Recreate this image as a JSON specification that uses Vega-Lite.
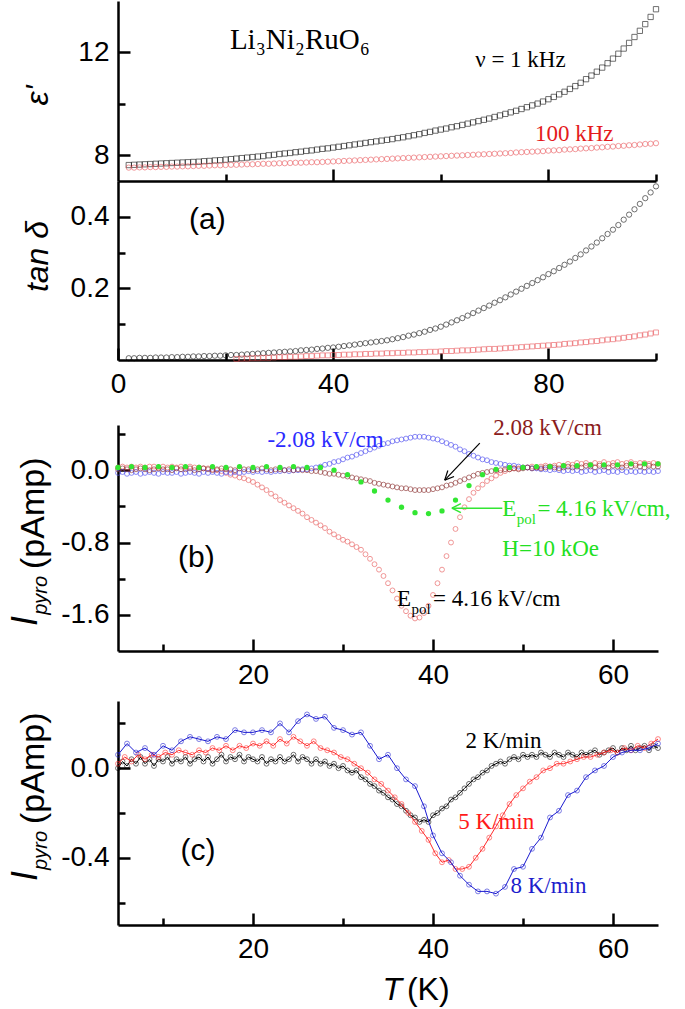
{
  "$schema": "https://vega.github.io/schema/vega-lite/v6.json",
  "padding": {"left": 8, "top": 1, "right": 0, "bottom": 0},
  "background": "white",
  "config": {
    "view": {"stroke": null},
    "axis": {"grid": false, "domainColor": "#000", "domainWidth": 2.5, "tickColor": "#000", "tickWidth": 2.5, "labelFont": "Liberation Sans", "labelFontSize": 28, "labelColor": "#000", "titleFont": "Liberation Sans", "titleColor": "#000", "titleFontWeight": "normal", "labelOverlap": false, "labelFlush": false}
  },
  "datasets": {
    "pa": [
      {"T":2,"e1":7.62,"e2":7.52,"t1":0.005},{"T":3,"e1":7.63,"e2":7.52,"t1":0.005},{"T":4,"e1":7.64,"e2":7.53,"t1":0.006},{"T":5,"e1":7.65,"e2":7.53,"t1":0.006},{"T":6,"e1":7.66,"e2":7.54,"t1":0.006},{"T":7,"e1":7.67,"e2":7.54,"t1":0.007},{"T":8,"e1":7.68,"e2":7.55,"t1":0.007},{"T":9,"e1":7.69,"e2":7.55,"t1":0.007},{"T":10,"e1":7.70,"e2":7.56,"t1":0.008},{"T":11,"e1":7.71,"e2":7.56,"t1":0.008},{"T":12,"e1":7.72,"e2":7.57,"t1":0.009},{"T":13,"e1":7.73,"e2":7.57,"t1":0.009},{"T":14,"e1":7.74,"e2":7.58,"t1":0.010},{"T":15,"e1":7.75,"e2":7.59,"t1":0.010},{"T":16,"e1":7.77,"e2":7.59,"t1":0.011},{"T":17,"e1":7.78,"e2":7.60,"t1":0.011},{"T":18,"e1":7.80,"e2":7.61,"t1":0.012},{"T":19,"e1":7.81,"e2":7.61,"t1":0.012},{"T":20,"e1":7.83,"e2":7.62,"t1":0.013},{"T":21,"e1":7.85,"e2":7.63,"t1":0.014},
      {"T":22,"e1":7.87,"e2":7.63,"t1":0.014,"t2":0.003},{"T":23,"e1":7.89,"e2":7.64,"t1":0.015,"t2":0.004},{"T":24,"e1":7.91,"e2":7.65,"t1":0.016,"t2":0.004},{"T":25,"e1":7.93,"e2":7.65,"t1":0.017,"t2":0.005},{"T":26,"e1":7.95,"e2":7.66,"t1":0.018,"t2":0.005},{"T":27,"e1":7.97,"e2":7.67,"t1":0.019,"t2":0.006},{"T":28,"e1":8.00,"e2":7.67,"t1":0.020,"t2":0.006},{"T":29,"e1":8.02,"e2":7.68,"t1":0.021,"t2":0.007},{"T":30,"e1":8.05,"e2":7.69,"t1":0.022,"t2":0.008},{"T":31,"e1":8.07,"e2":7.69,"t1":0.023,"t2":0.008},{"T":32,"e1":8.09,"e2":7.70,"t1":0.024,"t2":0.009},{"T":33,"e1":8.12,"e2":7.71,"t1":0.025,"t2":0.009},{"T":34,"e1":8.14,"e2":7.71,"t1":0.027,"t2":0.010},{"T":35,"e1":8.17,"e2":7.72,"t1":0.028,"t2":0.011},{"T":36,"e1":8.19,"e2":7.73,"t1":0.029,"t2":0.011},{"T":37,"e1":8.22,"e2":7.73,"t1":0.031,"t2":0.012},{"T":38,"e1":8.25,"e2":7.74,"t1":0.032,"t2":0.013},{"T":39,"e1":8.27,"e2":7.75,"t1":0.034,"t2":0.013},{"T":40,"e1":8.30,"e2":7.76,"t1":0.035,"t2":0.014},{"T":41,"e1":8.33,"e2":7.77,"t1":0.037,"t2":0.014},{"T":42,"e1":8.36,"e2":7.78,"t1":0.039,"t2":0.015},{"T":43,"e1":8.39,"e2":7.79,"t1":0.041,"t2":0.015},{"T":44,"e1":8.42,"e2":7.80,"t1":0.043,"t2":0.016},{"T":45,"e1":8.45,"e2":7.81,"t1":0.045,"t2":0.016},{"T":46,"e1":8.48,"e2":7.82,"t1":0.047,"t2":0.017},{"T":47,"e1":8.51,"e2":7.83,"t1":0.049,"t2":0.017},{"T":48,"e1":8.54,"e2":7.84,"t1":0.051,"t2":0.018},{"T":49,"e1":8.57,"e2":7.85,"t1":0.053,"t2":0.018},{"T":50,"e1":8.60,"e2":7.86,"t1":0.055,"t2":0.019},{"T":51,"e1":8.63,"e2":7.87,"t1":0.058,"t2":0.019},{"T":52,"e1":8.67,"e2":7.88,"t1":0.061,"t2":0.020},{"T":53,"e1":8.70,"e2":7.89,"t1":0.064,"t2":0.020},{"T":54,"e1":8.74,"e2":7.90,"t1":0.068,"t2":0.021},{"T":55,"e1":8.78,"e2":7.91,"t1":0.071,"t2":0.021},{"T":56,"e1":8.82,"e2":7.92,"t1":0.075,"t2":0.022},{"T":57,"e1":8.87,"e2":7.93,"t1":0.079,"t2":0.022},{"T":58,"e1":8.91,"e2":7.94,"t1":0.084,"t2":0.023},{"T":59,"e1":8.96,"e2":7.95,"t1":0.088,"t2":0.023},{"T":60,"e1":9.00,"e2":7.96,"t1":0.093,"t2":0.024},{"T":61,"e1":9.04,"e2":7.97,"t1":0.099,"t2":0.025},{"T":62,"e1":9.09,"e2":7.98,"t1":0.105,"t2":0.025},{"T":63,"e1":9.13,"e2":7.99,"t1":0.111,"t2":0.026},{"T":64,"e1":9.18,"e2":8.00,"t1":0.117,"t2":0.027},{"T":65,"e1":9.23,"e2":8.01,"t1":0.124,"t2":0.027},{"T":66,"e1":9.28,"e2":8.02,"t1":0.131,"t2":0.028},{"T":67,"e1":9.33,"e2":8.03,"t1":0.138,"t2":0.029},{"T":68,"e1":9.38,"e2":8.04,"t1":0.145,"t2":0.030},{"T":69,"e1":9.43,"e2":8.05,"t1":0.152,"t2":0.031},{"T":70,"e1":9.49,"e2":8.06,"t1":0.160,"t2":0.031},{"T":71,"e1":9.55,"e2":8.07,"t1":0.167,"t2":0.032},{"T":72,"e1":9.61,"e2":8.08,"t1":0.175,"t2":0.033},{"T":73,"e1":9.67,"e2":8.09,"t1":0.183,"t2":0.034},{"T":74,"e1":9.73,"e2":8.11,"t1":0.191,"t2":0.035},{"T":75,"e1":9.80,"e2":8.12,"t1":0.199,"t2":0.036},{"T":76,"e1":9.87,"e2":8.13,"t1":0.207,"t2":0.037},{"T":77,"e1":9.94,"e2":8.14,"t1":0.215,"t2":0.038},{"T":78,"e1":10.01,"e2":8.15,"t1":0.223,"t2":0.039},{"T":79,"e1":10.09,"e2":8.16,"t1":0.231,"t2":0.040},{"T":80,"e1":10.18,"e2":8.18,"t1":0.240,"t2":0.041},{"T":81,"e1":10.27,"e2":8.19,"t1":0.248,"t2":0.042},{"T":82,"e1":10.37,"e2":8.20,"t1":0.257,"t2":0.043},{"T":83,"e1":10.47,"e2":8.22,"t1":0.266,"t2":0.045},{"T":84,"e1":10.58,"e2":8.23,"t1":0.275,"t2":0.046},{"T":85,"e1":10.69,"e2":8.24,"t1":0.285,"t2":0.047},{"T":86,"e1":10.82,"e2":8.26,"t1":0.295,"t2":0.049},{"T":87,"e1":10.96,"e2":8.27,"t1":0.306,"t2":0.050},{"T":88,"e1":11.10,"e2":8.28,"t1":0.317,"t2":0.052},{"T":89,"e1":11.25,"e2":8.30,"t1":0.328,"t2":0.053},{"T":90,"e1":11.41,"e2":8.31,"t1":0.340,"t2":0.055},{"T":91,"e1":11.58,"e2":8.33,"t1":0.352,"t2":0.057},{"T":92,"e1":11.76,"e2":8.34,"t1":0.364,"t2":0.058},{"T":93,"e1":11.95,"e2":8.36,"t1":0.377,"t2":0.060},{"T":94,"e1":12.15,"e2":8.37,"t1":0.392,"t2":0.062},{"T":95,"e1":12.37,"e2":8.39,"t1":0.406,"t2":0.064},{"T":96,"e1":12.60,"e2":8.40,"t1":0.421,"t2":0.066},{"T":97,"e1":12.84,"e2":8.42,"t1":0.436,"t2":0.069},{"T":98,"e1":13.10,"e2":8.44,"t1":0.452,"t2":0.071},{"T":99,"e1":13.38,"e2":8.45,"t1":0.468,"t2":0.074},{"T":100,"e1":13.68,"e2":8.47,"t1":0.485,"t2":0.077}
    ],
    "pb": [
      {"T":5.0,"r":0.03,"bl":-0.03,"br":0.01},{"T":5.5,"r":0.04,"bl":-0.02,"br":0.02},{"T":6.0,"r":0.03,"bl":-0.04,"br":0.01},{"T":6.5,"r":0.04,"bl":-0.03,"br":0.0},{"T":7.0,"r":0.03,"bl":-0.02,"br":0.01},{"T":7.5,"r":0.04,"bl":-0.04,"br":0.02},{"T":8.0,"r":0.03,"bl":-0.03,"br":0.01},{"T":8.5,"r":0.04,"bl":-0.02,"br":0.0},{"T":9.0,"r":0.04,"bl":-0.03,"br":0.01},{"T":9.5,"r":0.03,"bl":-0.04,"br":0.02},{"T":10.0,"r":0.04,"bl":-0.02,"br":0.01},{"T":10.5,"r":0.03,"bl":-0.03,"br":0.01},{"T":11.0,"r":0.04,"bl":-0.03,"br":0.0},{"T":11.5,"r":0.03,"bl":-0.02,"br":0.02},{"T":12.0,"r":0.04,"bl":-0.04,"br":0.01},{"T":12.5,"r":0.03,"bl":-0.03,"br":0.01},{"T":13.0,"r":0.04,"bl":-0.02,"br":0.02},{"T":13.5,"r":0.03,"bl":-0.03,"br":0.0},{"T":14.0,"r":0.03,"bl":-0.04,"br":0.01},{"T":14.5,"r":0.02,"bl":-0.02,"br":0.02},{"T":15.0,"r":0.02,"bl":-0.03,"br":0.01},{"T":15.5,"r":0.01,"bl":-0.02,"br":0.0},{"T":16.0,"r":0.0,"bl":-0.03,"br":0.01},{"T":16.5,"r":-0.01,"bl":-0.04,"br":0.02},{"T":17.0,"r":-0.03,"bl":-0.02,"br":0.01},{"T":17.5,"r":-0.05,"bl":-0.03,"br":0.01},{"T":18.0,"r":-0.06,"bl":-0.02,"br":0.0},{"T":18.5,"r":-0.08,"bl":-0.03,"br":0.02},{"T":19.0,"r":-0.09,"bl":-0.02,"br":0.01},{"T":19.5,"r":-0.11,"bl":-0.01,"br":0.01},{"T":20.0,"r":-0.13,"bl":-0.02,"br":0.0},{"T":20.5,"r":-0.16,"bl":-0.01,"br":0.01},{"T":21.0,"r":-0.19,"bl":-0.02,"br":0.02},{"T":21.5,"r":-0.22,"bl":-0.01,"br":0.01},{"T":22.0,"r":-0.26,"bl":-0.02,"br":0.0},{"T":22.5,"r":-0.29,"bl":-0.01,"br":0.01},{"T":23.0,"r":-0.33,"bl":-0.01,"br":0.01},{"T":23.5,"r":-0.36,"bl":0.0,"br":0.0},{"T":24.0,"r":-0.39,"bl":-0.01,"br":0.01},{"T":24.5,"r":-0.42,"bl":0.0,"br":0.0},{"T":25.0,"r":-0.45,"bl":0.0,"br":0.01},{"T":25.5,"r":-0.48,"bl":0.01,"br":0.0},{"T":26.0,"r":-0.52,"bl":0.01,"br":0.0},{"T":26.5,"r":-0.55,"bl":0.02,"br":-0.01},{"T":27.0,"r":-0.58,"bl":0.03,"br":-0.01},{"T":27.5,"r":-0.61,"bl":0.04,"br":-0.02},{"T":28.0,"r":-0.64,"bl":0.06,"br":-0.03},{"T":28.5,"r":-0.68,"bl":0.07,"br":-0.04},{"T":29.0,"r":-0.71,"bl":0.09,"br":-0.04},{"T":29.5,"r":-0.74,"bl":0.10,"br":-0.05},{"T":30.0,"r":-0.77,"bl":0.12,"br":-0.06},{"T":30.5,"r":-0.79,"bl":0.14,"br":-0.07},{"T":31.0,"r":-0.82,"bl":0.15,"br":-0.08},{"T":31.5,"r":-0.85,"bl":0.17,"br":-0.09},{"T":32.0,"r":-0.88,"bl":0.19,"br":-0.10},{"T":32.5,"r":-0.93,"bl":0.21,"br":-0.11},{"T":33.0,"r":-0.98,"bl":0.23,"br":-0.12},{"T":33.5,"r":-1.04,"bl":0.25,"br":-0.14},{"T":34.0,"r":-1.10,"bl":0.27,"br":-0.15},{"T":34.5,"r":-1.17,"bl":0.29,"br":-0.16},{"T":35.0,"r":-1.25,"bl":0.30,"br":-0.17},{"T":35.5,"r":-1.33,"bl":0.32,"br":-0.18},{"T":36.0,"r":-1.42,"bl":0.33,"br":-0.19},{"T":36.5,"r":-1.50,"bl":0.34,"br":-0.20},{"T":37.0,"r":-1.56,"bl":0.35,"br":-0.20},{"T":37.5,"r":-1.61,"bl":0.36,"br":-0.21},{"T":38.0,"r":-1.64,"bl":0.37,"br":-0.22},{"T":38.5,"r":-1.63,"bl":0.37,"br":-0.22},{"T":39.0,"r":-1.58,"bl":0.37,"br":-0.22},{"T":39.5,"r":-1.50,"bl":0.36,"br":-0.22},{"T":40.0,"r":-1.38,"bl":0.35,"br":-0.21},{"T":40.5,"r":-1.25,"bl":0.34,"br":-0.20},{"T":41.0,"r":-1.10,"bl":0.32,"br":-0.19},{"T":41.5,"r":-0.95,"bl":0.30,"br":-0.17},{"T":42.0,"r":-0.80,"bl":0.28,"br":-0.16},{"T":42.5,"r":-0.65,"bl":0.26,"br":-0.14},{"T":43.0,"r":-0.52,"bl":0.23,"br":-0.12},{"T":43.5,"r":-0.41,"bl":0.21,"br":-0.10},{"T":44.0,"r":-0.32,"bl":0.18,"br":-0.08},{"T":44.5,"r":-0.25,"bl":0.16,"br":-0.06},{"T":45.0,"r":-0.20,"bl":0.14,"br":-0.04},{"T":45.5,"r":-0.16,"bl":0.12,"br":-0.03},{"T":46.0,"r":-0.12,"bl":0.11,"br":-0.02},{"T":46.5,"r":-0.09,"bl":0.09,"br":-0.01},{"T":47.0,"r":-0.06,"bl":0.08,"br":0.0},{"T":47.5,"r":-0.03,"bl":0.07,"br":0.0},{"T":48.0,"r":-0.01,"bl":0.06,"br":0.01},{"T":48.5,"r":0.01,"bl":0.05,"br":0.01},{"T":49.0,"r":0.02,"bl":0.05,"br":0.02},{"T":49.5,"r":0.02,"bl":0.04,"br":0.01},{"T":50.0,"r":0.03,"bl":0.03,"br":0.02},{"T":50.5,"r":0.03,"bl":0.03,"br":0.03},{"T":51.0,"r":0.04,"bl":0.02,"br":0.02},{"T":51.5,"r":0.03,"bl":0.02,"br":0.03},{"T":52.0,"r":0.04,"bl":0.01,"br":0.02},{"T":52.5,"r":0.05,"bl":0.01,"br":0.03},{"T":53.0,"r":0.04,"bl":0.0,"br":0.04},{"T":53.5,"r":0.05,"bl":0.01,"br":0.03},{"T":54.0,"r":0.06,"bl":0.0,"br":0.02},{"T":54.5,"r":0.05,"bl":-0.01,"br":0.03},{"T":55.0,"r":0.07,"bl":0.0,"br":0.04},{"T":55.5,"r":0.06,"bl":-0.01,"br":0.03},{"T":56.0,"r":0.08,"bl":0.0,"br":0.04},{"T":56.5,"r":0.07,"bl":-0.02,"br":0.03},{"T":57.0,"r":0.08,"bl":-0.01,"br":0.05},{"T":57.5,"r":0.06,"bl":0.0,"br":0.04},{"T":58.0,"r":0.08,"bl":-0.02,"br":0.03},{"T":58.5,"r":0.07,"bl":-0.01,"br":0.05},{"T":59.0,"r":0.09,"bl":0.0,"br":0.04},{"T":59.5,"r":0.07,"bl":-0.02,"br":0.03},{"T":60.0,"r":0.08,"bl":-0.01,"br":0.05},{"T":60.5,"r":0.09,"bl":-0.02,"br":0.04},{"T":61.0,"r":0.07,"bl":0.0,"br":0.03},{"T":61.5,"r":0.08,"bl":-0.02,"br":0.05},{"T":62.0,"r":0.09,"bl":-0.01,"br":0.04},{"T":62.5,"r":0.07,"bl":-0.02,"br":0.05},{"T":63.0,"r":0.08,"bl":-0.01,"br":0.04},{"T":63.5,"r":0.08,"bl":-0.02,"br":0.03},{"T":64.0,"r":0.07,"bl":-0.01,"br":0.05},{"T":64.5,"r":0.08,"bl":-0.02,"br":0.04},{"T":65.0,"r":0.07,"bl":-0.01,"br":0.04}
    ],
    "pbg": [
      {"T":5,"g":0.03},{"T":6.5,"g":0.04},{"T":8,"g":0.03},{"T":9.5,"g":0.04},{"T":11,"g":0.03},{"T":12.5,"g":0.04},{"T":14,"g":0.03},{"T":15.5,"g":0.04},{"T":17,"g":0.03},{"T":18.5,"g":0.04},{"T":20,"g":0.03},{"T":21.5,"g":0.04},{"T":23,"g":0.03},{"T":24.5,"g":0.04},{"T":26,"g":0.03},{"T":27.5,"g":0.03},{"T":29,"g":0.0},{"T":30.5,"g":-0.05},{"T":32,"g":-0.13},{"T":33.5,"g":-0.23},{"T":35,"g":-0.33},{"T":36.5,"g":-0.41},{"T":38,"g":-0.47},{"T":39.5,"g":-0.48},{"T":41,"g":-0.45},{"T":42.5,"g":-0.33},{"T":44,"g":-0.17},{"T":45.5,"g":-0.05},{"T":47,"g":0.01},{"T":48.5,"g":0.03},{"T":50,"g":0.03},{"T":51.5,"g":0.04},{"T":53,"g":0.04},{"T":54.5,"g":0.05},{"T":56,"g":0.05},{"T":57.5,"g":0.06},{"T":59,"g":0.06},{"T":60.5,"g":0.06},{"T":62,"g":0.07},{"T":63.5,"g":0.07},{"T":65,"g":0.07}
    ],
    "pc2": [
      {"T":5.0,"I":0.0},{"T":5.5,"I":0.03},{"T":6.0,"I":0.01},{"T":6.5,"I":0.04},{"T":7.0,"I":0.02},{"T":7.5,"I":0.05},{"T":8.0,"I":0.02},{"T":8.5,"I":0.04},{"T":9.0,"I":0.01},{"T":9.5,"I":0.04},{"T":10.0,"I":0.03},{"T":10.5,"I":0.05},{"T":11.0,"I":0.02},{"T":11.5,"I":0.04},{"T":12.0,"I":0.03},{"T":12.5,"I":0.05},{"T":13.0,"I":0.02},{"T":13.5,"I":0.04},{"T":14.0,"I":0.05},{"T":14.5,"I":0.03},{"T":15.0,"I":0.05},{"T":15.5,"I":0.02},{"T":16.0,"I":0.04},{"T":16.5,"I":0.06},{"T":17.0,"I":0.03},{"T":17.5,"I":0.05},{"T":18.0,"I":0.04},{"T":18.5,"I":0.06},{"T":19.0,"I":0.03},{"T":19.5,"I":0.05},{"T":20.0,"I":0.04},{"T":20.5,"I":0.03},{"T":21.0,"I":0.05},{"T":21.5,"I":0.02},{"T":22.0,"I":0.04},{"T":22.5,"I":0.03},{"T":23.0,"I":0.05},{"T":23.5,"I":0.03},{"T":24.0,"I":0.04},{"T":24.5,"I":0.06},{"T":25.0,"I":0.03},{"T":25.5,"I":0.05},{"T":26.0,"I":0.04},{"T":26.5,"I":0.02},{"T":27.0,"I":0.04},{"T":27.5,"I":0.02},{"T":28.0,"I":0.03},{"T":28.5,"I":0.01},{"T":29.0,"I":0.02},{"T":29.5,"I":0.0},{"T":30.0,"I":0.01},{"T":30.5,"I":-0.01},{"T":31.0,"I":-0.02},{"T":31.5,"I":-0.01},{"T":32.0,"I":-0.04},{"T":32.5,"I":-0.05},{"T":33.0,"I":-0.07},{"T":33.5,"I":-0.08},{"T":34.0,"I":-0.10},{"T":34.5,"I":-0.11},{"T":35.0,"I":-0.13},{"T":35.5,"I":-0.14},{"T":36.0,"I":-0.16},{"T":36.5,"I":-0.17},{"T":37.0,"I":-0.19},{"T":37.5,"I":-0.21},{"T":38.0,"I":-0.22},{"T":38.5,"I":-0.24},{"T":39.0,"I":-0.23},{"T":39.5,"I":-0.24},{"T":40.0,"I":-0.21},{"T":40.5,"I":-0.20},{"T":41.0,"I":-0.18},{"T":41.5,"I":-0.17},{"T":42.0,"I":-0.14},{"T":42.5,"I":-0.13},{"T":43.0,"I":-0.11},{"T":43.5,"I":-0.09},{"T":44.0,"I":-0.07},{"T":44.5,"I":-0.05},{"T":45.0,"I":-0.04},{"T":45.5,"I":-0.02},{"T":46.0,"I":-0.01},{"T":46.5,"I":0.01},{"T":47.0,"I":0.02},{"T":47.5,"I":0.03},{"T":48.0,"I":0.02},{"T":48.5,"I":0.04},{"T":49.0,"I":0.05},{"T":49.5,"I":0.04},{"T":50.0,"I":0.06},{"T":50.5,"I":0.05},{"T":51.0,"I":0.06},{"T":51.5,"I":0.05},{"T":52.0,"I":0.07},{"T":52.5,"I":0.06},{"T":53.0,"I":0.05},{"T":53.5,"I":0.07},{"T":54.0,"I":0.06},{"T":54.5,"I":0.05},{"T":55.0,"I":0.07},{"T":55.5,"I":0.06},{"T":56.0,"I":0.05},{"T":56.5,"I":0.07},{"T":57.0,"I":0.06},{"T":57.5,"I":0.07},{"T":58.0,"I":0.08},{"T":58.5,"I":0.06},{"T":59.0,"I":0.07},{"T":59.5,"I":0.08},{"T":60.0,"I":0.09},{"T":60.5,"I":0.07},{"T":61.0,"I":0.09},{"T":61.5,"I":0.08},{"T":62.0,"I":0.10},{"T":62.5,"I":0.08},{"T":63.0,"I":0.09},{"T":63.5,"I":0.10},{"T":64.0,"I":0.08},{"T":64.5,"I":0.10},{"T":65.0,"I":0.09}
    ],
    "pc5": [
      {"T":5.0,"I":0.02},{"T":5.75,"I":0.05},{"T":6.5,"I":0.03},{"T":7.25,"I":0.06},{"T":8.0,"I":0.04},{"T":8.75,"I":0.06},{"T":9.5,"I":0.05},{"T":10.25,"I":0.07},{"T":11.0,"I":0.06},{"T":11.75,"I":0.08},{"T":12.5,"I":0.07},{"T":13.25,"I":0.06},{"T":14.0,"I":0.08},{"T":14.75,"I":0.07},{"T":15.5,"I":0.09},{"T":16.25,"I":0.08},{"T":17.0,"I":0.10},{"T":17.75,"I":0.08},{"T":18.5,"I":0.10},{"T":19.25,"I":0.09},{"T":20.0,"I":0.11},{"T":20.75,"I":0.10},{"T":21.5,"I":0.12},{"T":22.25,"I":0.10},{"T":23.0,"I":0.13},{"T":23.75,"I":0.11},{"T":24.5,"I":0.14},{"T":25.25,"I":0.12},{"T":26.0,"I":0.10},{"T":26.75,"I":0.12},{"T":27.5,"I":0.09},{"T":28.25,"I":0.08},{"T":29.0,"I":0.07},{"T":29.75,"I":0.05},{"T":30.5,"I":0.04},{"T":31.25,"I":0.02},{"T":32.0,"I":0.0},{"T":32.75,"I":-0.02},{"T":33.5,"I":-0.05},{"T":34.25,"I":-0.07},{"T":35.0,"I":-0.10},{"T":35.75,"I":-0.13},{"T":36.5,"I":-0.16},{"T":37.25,"I":-0.20},{"T":38.0,"I":-0.24},{"T":38.75,"I":-0.28},{"T":39.5,"I":-0.32},{"T":40.25,"I":-0.38},{"T":41.0,"I":-0.42},{"T":41.75,"I":-0.41},{"T":42.5,"I":-0.45},{"T":43.25,"I":-0.45},{"T":44.0,"I":-0.44},{"T":44.75,"I":-0.40},{"T":45.5,"I":-0.36},{"T":46.25,"I":-0.31},{"T":47.0,"I":-0.26},{"T":47.75,"I":-0.21},{"T":48.5,"I":-0.16},{"T":49.25,"I":-0.12},{"T":50.0,"I":-0.09},{"T":50.75,"I":-0.06},{"T":51.5,"I":-0.04},{"T":52.25,"I":-0.01},{"T":53.0,"I":0.0},{"T":53.75,"I":0.02},{"T":54.5,"I":0.02},{"T":55.25,"I":0.03},{"T":56.0,"I":0.04},{"T":56.75,"I":0.05},{"T":57.5,"I":0.05},{"T":58.25,"I":0.06},{"T":59.0,"I":0.07},{"T":59.75,"I":0.08},{"T":60.5,"I":0.07},{"T":61.25,"I":0.09},{"T":62.0,"I":0.08},{"T":62.75,"I":0.10},{"T":63.5,"I":0.09},{"T":64.25,"I":0.11},{"T":65.0,"I":0.13}
    ],
    "pc8": [
      {"T":5,"I":0.06},{"T":6,"I":0.11},{"T":7,"I":0.07},{"T":8,"I":0.09},{"T":9,"I":0.06},{"T":10,"I":0.10},{"T":11,"I":0.08},{"T":12,"I":0.12},{"T":13,"I":0.14},{"T":14,"I":0.13},{"T":15,"I":0.12},{"T":16,"I":0.14},{"T":17,"I":0.13},{"T":18,"I":0.17},{"T":19,"I":0.16},{"T":20,"I":0.16},{"T":21,"I":0.17},{"T":22,"I":0.16},{"T":23,"I":0.20},{"T":24,"I":0.16},{"T":25,"I":0.21},{"T":26,"I":0.24},{"T":27,"I":0.22},{"T":28,"I":0.23},{"T":29,"I":0.18},{"T":30,"I":0.17},{"T":31,"I":0.15},{"T":32,"I":0.16},{"T":33,"I":0.10},{"T":34,"I":0.04},{"T":35,"I":0.06},{"T":36,"I":0.0},{"T":37,"I":-0.05},{"T":38,"I":-0.08},{"T":39,"I":-0.17},{"T":40,"I":-0.30},{"T":41,"I":-0.38},{"T":42,"I":-0.42},{"T":43,"I":-0.48},{"T":44,"I":-0.52},{"T":45,"I":-0.55},{"T":46,"I":-0.55},{"T":47,"I":-0.56},{"T":48,"I":-0.53},{"T":49,"I":-0.45},{"T":50,"I":-0.44},{"T":51,"I":-0.36},{"T":52,"I":-0.31},{"T":53,"I":-0.22},{"T":54,"I":-0.19},{"T":55,"I":-0.12},{"T":56,"I":-0.10},{"T":57,"I":-0.04},{"T":58,"I":-0.01},{"T":59,"I":0.01},{"T":60,"I":0.05},{"T":61,"I":0.07},{"T":62,"I":0.08},{"T":63,"I":0.08},{"T":64,"I":0.09},{"T":65,"I":0.11}
    ]
  },
  "spacing": 18,
  "vconcat": [
    {
      "spacing": 0,
      "bounds": "flush",
      "vconcat": [
        {
          "width": 538, "height": 180,
          "resolve": {"axis": {"x": "independent", "y": "independent"}},
          "layer": [
            {"data": {"name": "pa"}, "mark": {"type": "point", "shape": "square", "filled": false, "color": "#000000", "size": 28, "strokeWidth": 0.8},
             "encoding": {
               "x": {"field": "T", "type": "quantitative", "scale": {"domain": [0, 100], "nice": false, "zero": false}, "axis": {"orient": "bottom", "values": [40, 80], "tickSize": -12, "labels": false, "title": null}},
               "y": {"field": "e1", "type": "quantitative", "scale": {"domain": [7, 14], "nice": false, "zero": false}, "axis": {"orient": "left", "values": [8, 12], "tickSize": -12, "labelPadding": 21, "format": "d", "title": "ε'", "titleFontStyle": "italic", "titleFontSize": 32, "titleX": -81, "titleY": 94, "titleAngle": 270, "titleBaseline": "middle", "titleAlign": "center"}}
             }},
            {"data": {"name": "pa"}, "mark": {"type": "point", "shape": "circle", "filled": false, "color": "#e84a4f", "size": 28, "strokeWidth": 0.8},
             "encoding": {
               "x": {"field": "T", "type": "quantitative", "scale": {"domain": [0, 100], "nice": false, "zero": false}, "axis": {"orient": "bottom", "values": [20, 60, 100], "tickSize": -7, "labels": false, "domain": false, "title": null}},
               "y": {"field": "e2", "type": "quantitative", "scale": {"domain": [7, 14], "nice": false, "zero": false}, "axis": {"orient": "left", "values": [10], "tickSize": -7, "labels": false, "domain": false, "title": null}}
             }},
            {"data": {"values": [{"T": 20.8, "v": 12.12, "label": "Li₃Ni₂RuO₆"}]}, "mark": {"type": "text", "align": "left", "baseline": "alphabetic", "font": "Liberation Serif", "fontSize": 29, "color": "#000000"},
             "encoding": {"x": {"field": "T", "type": "quantitative", "scale": {"domain": [0, 100], "nice": false, "zero": false}, "axis": null}, "y": {"field": "v", "type": "quantitative", "scale": {"domain": [7, 14], "nice": false, "zero": false}, "axis": null}, "text": {"field": "label"}}},
            {"data": {"values": [{"T": 66.4, "v": 11.42, "label": "ν = 1 kHz"}]}, "mark": {"type": "text", "align": "left", "baseline": "alphabetic", "font": "Liberation Serif", "fontSize": 23, "color": "#000000"},
             "encoding": {"x": {"field": "T", "type": "quantitative", "scale": {"domain": [0, 100], "nice": false, "zero": false}, "axis": null}, "y": {"field": "v", "type": "quantitative", "scale": {"domain": [7, 14], "nice": false, "zero": false}, "axis": null}, "text": {"field": "label"}}},
            {"data": {"values": [{"T": 77.5, "v": 8.54, "label": "100 kHz"}]}, "mark": {"type": "text", "align": "left", "baseline": "alphabetic", "font": "Liberation Serif", "fontSize": 23, "color": "#e41a1c"},
             "encoding": {"x": {"field": "T", "type": "quantitative", "scale": {"domain": [0, 100], "nice": false, "zero": false}, "axis": null}, "y": {"field": "v", "type": "quantitative", "scale": {"domain": [7, 14], "nice": false, "zero": false}, "axis": null}, "text": {"field": "label"}}}
          ]
        },
        {
          "width": 538, "height": 179,
          "resolve": {"axis": {"x": "independent", "y": "independent"}},
          "layer": [
            {"data": {"name": "pa"}, "mark": {"type": "point", "shape": "circle", "filled": false, "color": "#000000", "size": 28, "strokeWidth": 0.8},
             "encoding": {
               "x": {"field": "T", "type": "quantitative", "scale": {"domain": [0, 100], "nice": false, "zero": false}, "axis": {"orient": "bottom", "values": [0, 40, 80], "tickSize": -12, "labelPadding": 22, "format": "d", "title": null}},
               "y": {"field": "t1", "type": "quantitative", "scale": {"domain": [0, 0.5], "nice": false, "zero": false}, "axis": {"orient": "left", "values": [0.2, 0.4], "tickSize": -12, "labelPadding": 21, "format": ".1f", "title": "tan δ", "titleFontStyle": "italic", "titleFontSize": 32, "titleX": -81, "titleY": 75, "titleAngle": 270, "titleBaseline": "middle", "titleAlign": "center"}}
             }},
            {"data": {"name": "pa"}, "mark": {"type": "point", "shape": "square", "filled": false, "color": "#e84a4f", "size": 24, "strokeWidth": 0.8},
             "encoding": {
               "x": {"field": "T", "type": "quantitative", "scale": {"domain": [0, 100], "nice": false, "zero": false}, "axis": {"orient": "bottom", "values": [20, 60, 100], "tickSize": -7, "labels": false, "domain": false, "title": null}},
               "y": {"field": "t2", "type": "quantitative", "scale": {"domain": [0, 0.5], "nice": false, "zero": false}, "axis": {"orient": "left", "values": [0.1, 0.3], "tickSize": -7, "labels": false, "domain": false, "title": null}}
             }},
            {"data": {"values": [{"T": 16.6, "v": 0.39, "label": "(a)"}]}, "mark": {"type": "text", "align": "center", "baseline": "middle", "font": "Liberation Sans", "fontSize": 30, "color": "#000000"},
             "encoding": {"x": {"field": "T", "type": "quantitative", "scale": {"domain": [0, 100], "nice": false, "zero": false}, "axis": null}, "y": {"field": "v", "type": "quantitative", "scale": {"domain": [0, 0.5], "nice": false, "zero": false}, "axis": null}, "text": {"field": "label"}}}
          ]
        }
      ]
    },
    {
      "spacing": 50,
      "bounds": "flush",
      "vconcat": [
        {
          "width": 540, "height": 226,
          "resolve": {"axis": {"x": "independent", "y": "independent"}},
          "layer": [
            {"data": {"name": "pb"}, "mark": {"type": "point", "shape": "circle", "filled": false, "color": "#e85a5a", "size": 24, "strokeWidth": 0.9},
             "encoding": {
               "x": {"field": "T", "type": "quantitative", "scale": {"domain": [5, 65], "nice": false, "zero": false}, "axis": {"orient": "bottom", "values": [20, 40, 60], "tickSize": -12, "labelPadding": 22, "format": "d", "title": null}},
               "y": {"field": "r", "type": "quantitative", "scale": {"domain": [-2, 0.5], "nice": false, "zero": false}, "axis": {"orient": "left", "values": [0, -0.8, -1.6], "tickSize": -12, "labelPadding": 21, "format": ".1f", "labelExpr": "replace(datum.label, '\u2212', '-')", "title": null}}
             }},
            {"data": {"name": "pb"}, "mark": {"type": "point", "shape": "circle", "filled": false, "color": "#4848f0", "size": 24, "strokeWidth": 0.9},
             "encoding": {
               "x": {"field": "T", "type": "quantitative", "scale": {"domain": [5, 65], "nice": false, "zero": false}, "axis": {"orient": "bottom", "values": [10, 30, 50], "tickSize": -7, "labels": false, "domain": false, "title": null}},
               "y": {"field": "bl", "type": "quantitative", "scale": {"domain": [-2, 0.5], "nice": false, "zero": false}, "axis": {"orient": "left", "values": [0.4, -0.4, -1.2], "tickSize": -7, "labels": false, "domain": false, "title": null}}
             }},
            {"data": {"name": "pb"}, "mark": {"type": "point", "shape": "circle", "filled": false, "color": "#8b3030", "size": 24, "strokeWidth": 0.9},
             "encoding": {
               "x": {"field": "T", "type": "quantitative", "scale": {"domain": [5, 65], "nice": false, "zero": false}, "axis": null},
               "y": {"field": "br", "type": "quantitative", "scale": {"domain": [-2, 0.5], "nice": false, "zero": false}, "axis": null}
             }},
            {"data": {"name": "pbg"}, "mark": {"type": "point", "shape": "circle", "filled": true, "color": "#33e633", "size": 28, "opacity": 1},
             "encoding": {
               "x": {"field": "T", "type": "quantitative", "scale": {"domain": [5, 65], "nice": false, "zero": false}, "axis": null},
               "y": {"field": "g", "type": "quantitative", "scale": {"domain": [-2, 0.5], "nice": false, "zero": false}, "axis": null}
             }},
            {"data": {"values": [
               {"T": 45.2, "I": 0.30, "T2": 41.3, "I2": -0.11},
               {"T": 41.3, "I": -0.11, "T2": 42.34, "I2": -0.069},
               {"T": 41.3, "I": -0.11, "T2": 41.65, "I2": -0.004}]},
             "mark": {"type": "rule", "color": "#000000", "strokeWidth": 1.2},
             "encoding": {
               "x": {"field": "T", "type": "quantitative", "scale": {"domain": [5, 65], "nice": false, "zero": false}, "axis": null},
               "y": {"field": "I", "type": "quantitative", "scale": {"domain": [-2, 0.5], "nice": false, "zero": false}, "axis": null},
               "x2": {"field": "T2"}, "y2": {"field": "I2"}
             }},
            {"data": {"values": [
               {"T": 47.7, "I": -0.42, "T2": 42.1, "I2": -0.42},
               {"T": 42.1, "I": -0.42, "T2": 43.1, "I2": -0.37},
               {"T": 42.1, "I": -0.42, "T2": 43.1, "I2": -0.47}]},
             "mark": {"type": "rule", "color": "#33e633", "strokeWidth": 1.5},
             "encoding": {
               "x": {"field": "T", "type": "quantitative", "scale": {"domain": [5, 65], "nice": false, "zero": false}, "axis": null},
               "y": {"field": "I", "type": "quantitative", "scale": {"domain": [-2, 0.5], "nice": false, "zero": false}, "axis": null},
               "x2": {"field": "T2"}, "y2": {"field": "I2"}
             }},
            {"data": {"values": [{"T": 21.6, "I": 0.26, "label": "-2.08 kV/cm"}]}, "mark": {"type": "text", "align": "left", "baseline": "alphabetic", "font": "Liberation Serif", "fontSize": 23, "color": "#2b2bff"},
             "encoding": {"x": {"field": "T", "type": "quantitative", "scale": {"domain": [5, 65], "nice": false, "zero": false}, "axis": null}, "y": {"field": "I", "type": "quantitative", "scale": {"domain": [-2, 0.5], "nice": false, "zero": false}, "axis": null}, "text": {"field": "label"}}},
            {"data": {"values": [{"T": 46.7, "I": 0.39, "label": "2.08 kV/cm"}]}, "mark": {"type": "text", "align": "left", "baseline": "alphabetic", "font": "Liberation Serif", "fontSize": 23, "color": "#8b1c1c"},
             "encoding": {"x": {"field": "T", "type": "quantitative", "scale": {"domain": [5, 65], "nice": false, "zero": false}, "axis": null}, "y": {"field": "I", "type": "quantitative", "scale": {"domain": [-2, 0.5], "nice": false, "zero": false}, "axis": null}, "text": {"field": "label"}}},
            {"data": {"values": [{"T": 36.0, "I": -1.5, "label": "E"}, {"T": 40.0, "I": -1.5, "label": "= 4.16 kV/cm"}]}, "mark": {"type": "text", "align": "left", "baseline": "alphabetic", "font": "Liberation Serif", "fontSize": 23, "color": "#000000"},
             "encoding": {"x": {"field": "T", "type": "quantitative", "scale": {"domain": [5, 65], "nice": false, "zero": false}, "axis": null}, "y": {"field": "I", "type": "quantitative", "scale": {"domain": [-2, 0.5], "nice": false, "zero": false}, "axis": null}, "text": {"field": "label"}}},
            {"data": {"values": [{"T": 37.6, "I": -1.59, "label": "pol"}]}, "mark": {"type": "text", "align": "left", "baseline": "alphabetic", "font": "Liberation Serif", "fontSize": 15, "color": "#000000"},
             "encoding": {"x": {"field": "T", "type": "quantitative", "scale": {"domain": [5, 65], "nice": false, "zero": false}, "axis": null}, "y": {"field": "I", "type": "quantitative", "scale": {"domain": [-2, 0.5], "nice": false, "zero": false}, "axis": null}, "text": {"field": "label"}}},
            {"data": {"values": [{"T": 47.7, "I": -0.51, "label": "E"}, {"T": 51.6, "I": -0.51, "label": "= 4.16 kV/cm,"}, {"T": 47.7, "I": -0.944, "label": "H=10 kOe"}]}, "mark": {"type": "text", "align": "left", "baseline": "alphabetic", "font": "Liberation Serif", "fontSize": 23, "color": "#22e022"},
             "encoding": {"x": {"field": "T", "type": "quantitative", "scale": {"domain": [5, 65], "nice": false, "zero": false}, "axis": null}, "y": {"field": "I", "type": "quantitative", "scale": {"domain": [-2, 0.5], "nice": false, "zero": false}, "axis": null}, "text": {"field": "label"}}},
            {"data": {"values": [{"T": 49.3, "I": -0.60, "label": "pol"}]}, "mark": {"type": "text", "align": "left", "baseline": "alphabetic", "font": "Liberation Serif", "fontSize": 15, "color": "#22e022"},
             "encoding": {"x": {"field": "T", "type": "quantitative", "scale": {"domain": [5, 65], "nice": false, "zero": false}, "axis": null}, "y": {"field": "I", "type": "quantitative", "scale": {"domain": [-2, 0.5], "nice": false, "zero": false}, "axis": null}, "text": {"field": "label"}}},
            {"data": {"values": [{"T": 13.7, "I": -0.97, "label": "(b)"}]}, "mark": {"type": "text", "align": "center", "baseline": "middle", "font": "Liberation Sans", "fontSize": 30, "color": "#000000"},
             "encoding": {"x": {"field": "T", "type": "quantitative", "scale": {"domain": [5, 65], "nice": false, "zero": false}, "axis": null}, "y": {"field": "I", "type": "quantitative", "scale": {"domain": [-2, 0.5], "nice": false, "zero": false}, "axis": null}, "text": {"field": "label"}}},
            {"data": {"values": [{"T": -5.2, "I": -1.723, "label": "I"}]}, "mark": {"type": "text", "angle": 270, "align": "left", "baseline": "middle", "font": "Liberation Sans", "fontStyle": "italic", "fontSize": 36, "color": "#000000"},
             "encoding": {"x": {"field": "T", "type": "quantitative", "scale": {"domain": [5, 65], "nice": false, "zero": false}, "axis": null}, "y": {"field": "I", "type": "quantitative", "scale": {"domain": [-2, 0.5], "nice": false, "zero": false}, "axis": null}, "text": {"field": "label"}}},
            {"data": {"values": [{"T": -3.6, "I": -1.60, "label": "pyro"}]}, "mark": {"type": "text", "angle": 270, "align": "left", "baseline": "middle", "font": "Liberation Sans", "fontStyle": "italic", "fontSize": 20, "color": "#000000"},
             "encoding": {"x": {"field": "T", "type": "quantitative", "scale": {"domain": [5, 65], "nice": false, "zero": false}, "axis": null}, "y": {"field": "I", "type": "quantitative", "scale": {"domain": [-2, 0.5], "nice": false, "zero": false}, "axis": null}, "text": {"field": "label"}}},
            {"data": {"values": [{"T": -4.3, "I": -1.093, "label": "(pAmp)"}]}, "mark": {"type": "text", "angle": 270, "align": "left", "baseline": "middle", "font": "Liberation Sans", "fontSize": 34, "color": "#000000"},
             "encoding": {"x": {"field": "T", "type": "quantitative", "scale": {"domain": [5, 65], "nice": false, "zero": false}, "axis": null}, "y": {"field": "I", "type": "quantitative", "scale": {"domain": [-2, 0.5], "nice": false, "zero": false}, "axis": null}, "text": {"field": "label"}}}
          ]
        },
        {
          "width": 540, "height": 224,
          "resolve": {"axis": {"x": "independent", "y": "independent"}},
          "layer": [
            {"data": {"name": "pc2"}, "mark": {"type": "line", "color": "#000000", "strokeWidth": 1},
             "encoding": {
               "x": {"field": "T", "type": "quantitative", "scale": {"domain": [5, 65], "nice": false, "zero": false}, "axis": null},
               "y": {"field": "I", "type": "quantitative", "scale": {"domain": [-0.7, 0.3], "nice": false, "zero": false}, "axis": null}
             }},
            {"data": {"name": "pc2"}, "mark": {"type": "point", "shape": "circle", "filled": false, "color": "#000000", "size": 24, "strokeWidth": 0.8},
             "encoding": {
               "x": {"field": "T", "type": "quantitative", "scale": {"domain": [5, 65], "nice": false, "zero": false}, "axis": {"orient": "bottom", "values": [20, 40, 60], "tickSize": -12, "labelPadding": 22, "format": "d", "title": null}},
               "y": {"field": "I", "type": "quantitative", "scale": {"domain": [-0.7, 0.3], "nice": false, "zero": false}, "axis": {"orient": "left", "values": [0, -0.4], "tickSize": -12, "labelPadding": 21, "format": ".1f", "labelExpr": "replace(datum.label, '\u2212', '-')", "title": null}}
             }},
            {"data": {"name": "pc5"}, "mark": {"type": "line", "color": "#ff2a2a", "strokeWidth": 1},
             "encoding": {
               "x": {"field": "T", "type": "quantitative", "scale": {"domain": [5, 65], "nice": false, "zero": false}, "axis": null},
               "y": {"field": "I", "type": "quantitative", "scale": {"domain": [-0.7, 0.3], "nice": false, "zero": false}, "axis": null}
             }},
            {"data": {"name": "pc5"}, "mark": {"type": "point", "shape": "circle", "filled": false, "color": "#ff2a2a", "size": 24, "strokeWidth": 0.8},
             "encoding": {
               "x": {"field": "T", "type": "quantitative", "scale": {"domain": [5, 65], "nice": false, "zero": false}, "axis": {"orient": "bottom", "values": [10, 30, 50], "tickSize": -7, "labels": false, "domain": false, "title": null}},
               "y": {"field": "I", "type": "quantitative", "scale": {"domain": [-0.7, 0.3], "nice": false, "zero": false}, "axis": {"orient": "left", "values": [0.2, -0.2, -0.6], "tickSize": -7, "labels": false, "domain": false, "title": null}}
             }},
            {"data": {"name": "pc8"}, "mark": {"type": "line", "color": "#1a1ad0", "strokeWidth": 1},
             "encoding": {
               "x": {"field": "T", "type": "quantitative", "scale": {"domain": [5, 65], "nice": false, "zero": false}, "axis": null},
               "y": {"field": "I", "type": "quantitative", "scale": {"domain": [-0.7, 0.3], "nice": false, "zero": false}, "axis": null}
             }},
            {"data": {"name": "pc8"}, "mark": {"type": "point", "shape": "circle", "filled": false, "color": "#1a1ad0", "size": 24, "strokeWidth": 0.8},
             "encoding": {
               "x": {"field": "T", "type": "quantitative", "scale": {"domain": [5, 65], "nice": false, "zero": false}, "axis": null},
               "y": {"field": "I", "type": "quantitative", "scale": {"domain": [-0.7, 0.3], "nice": false, "zero": false}, "axis": null}
             }},
            {"data": {"values": [{"T": 43.6, "I": 0.09, "label": "2 K/min"}]}, "mark": {"type": "text", "align": "left", "baseline": "alphabetic", "font": "Liberation Serif", "fontSize": 23, "color": "#000000"},
             "encoding": {"x": {"field": "T", "type": "quantitative", "scale": {"domain": [5, 65], "nice": false, "zero": false}, "axis": null}, "y": {"field": "I", "type": "quantitative", "scale": {"domain": [-0.7, 0.3], "nice": false, "zero": false}, "axis": null}, "text": {"field": "label"}}},
            {"data": {"values": [{"T": 42.8, "I": -0.27, "label": "5 K/min"}]}, "mark": {"type": "text", "align": "left", "baseline": "alphabetic", "font": "Liberation Serif", "fontSize": 23, "color": "#ff1a1a"},
             "encoding": {"x": {"field": "T", "type": "quantitative", "scale": {"domain": [5, 65], "nice": false, "zero": false}, "axis": null}, "y": {"field": "I", "type": "quantitative", "scale": {"domain": [-0.7, 0.3], "nice": false, "zero": false}, "axis": null}, "text": {"field": "label"}}},
            {"data": {"values": [{"T": 48.6, "I": -0.555, "label": "8 K/min"}]}, "mark": {"type": "text", "align": "left", "baseline": "alphabetic", "font": "Liberation Serif", "fontSize": 23, "color": "#1c1ccc"},
             "encoding": {"x": {"field": "T", "type": "quantitative", "scale": {"domain": [5, 65], "nice": false, "zero": false}, "axis": null}, "y": {"field": "I", "type": "quantitative", "scale": {"domain": [-0.7, 0.3], "nice": false, "zero": false}, "axis": null}, "text": {"field": "label"}}},
            {"data": {"values": [{"T": 13.9, "I": -0.37, "label": "(c)"}]}, "mark": {"type": "text", "align": "center", "baseline": "middle", "font": "Liberation Sans", "fontSize": 30, "color": "#000000"},
             "encoding": {"x": {"field": "T", "type": "quantitative", "scale": {"domain": [5, 65], "nice": false, "zero": false}, "axis": null}, "y": {"field": "I", "type": "quantitative", "scale": {"domain": [-0.7, 0.3], "nice": false, "zero": false}, "axis": null}, "text": {"field": "label"}}},
            {"data": {"values": [{"T": 36.55, "I": -1.036, "label": "T"}]}, "mark": {"type": "text", "align": "right", "baseline": "alphabetic", "font": "Liberation Sans", "fontStyle": "italic", "fontSize": 32, "color": "#000000"},
             "encoding": {"x": {"field": "T", "type": "quantitative", "scale": {"domain": [5, 65], "nice": false, "zero": false}, "axis": null}, "y": {"field": "I", "type": "quantitative", "scale": {"domain": [-0.7, 0.3], "nice": false, "zero": false}, "axis": null}, "text": {"field": "label"}}},
            {"data": {"values": [{"T": 37.1, "I": -1.036, "label": "(K)"}]}, "mark": {"type": "text", "align": "left", "baseline": "alphabetic", "font": "Liberation Sans", "fontSize": 32, "color": "#000000"},
             "encoding": {"x": {"field": "T", "type": "quantitative", "scale": {"domain": [5, 65], "nice": false, "zero": false}, "axis": null}, "y": {"field": "I", "type": "quantitative", "scale": {"domain": [-0.7, 0.3], "nice": false, "zero": false}, "axis": null}, "text": {"field": "label"}}},
            {"data": {"values": [{"T": -5.2, "I": -0.504, "label": "I"}]}, "mark": {"type": "text", "angle": 270, "align": "left", "baseline": "middle", "font": "Liberation Sans", "fontStyle": "italic", "fontSize": 36, "color": "#000000"},
             "encoding": {"x": {"field": "T", "type": "quantitative", "scale": {"domain": [5, 65], "nice": false, "zero": false}, "axis": null}, "y": {"field": "I", "type": "quantitative", "scale": {"domain": [-0.7, 0.3], "nice": false, "zero": false}, "axis": null}, "text": {"field": "label"}}},
            {"data": {"values": [{"T": -3.6, "I": -0.454, "label": "pyro"}]}, "mark": {"type": "text", "angle": 270, "align": "left", "baseline": "middle", "font": "Liberation Sans", "fontStyle": "italic", "fontSize": 20, "color": "#000000"},
             "encoding": {"x": {"field": "T", "type": "quantitative", "scale": {"domain": [5, 65], "nice": false, "zero": false}, "axis": null}, "y": {"field": "I", "type": "quantitative", "scale": {"domain": [-0.7, 0.3], "nice": false, "zero": false}, "axis": null}, "text": {"field": "label"}}},
            {"data": {"values": [{"T": -4.3, "I": -0.249, "label": "(pAmp)"}]}, "mark": {"type": "text", "angle": 270, "align": "left", "baseline": "middle", "font": "Liberation Sans", "fontSize": 34, "color": "#000000"},
             "encoding": {"x": {"field": "T", "type": "quantitative", "scale": {"domain": [5, 65], "nice": false, "zero": false}, "axis": null}, "y": {"field": "I", "type": "quantitative", "scale": {"domain": [-0.7, 0.3], "nice": false, "zero": false}, "axis": null}, "text": {"field": "label"}}}
          ]
        }
      ]
    }
  ]
}
